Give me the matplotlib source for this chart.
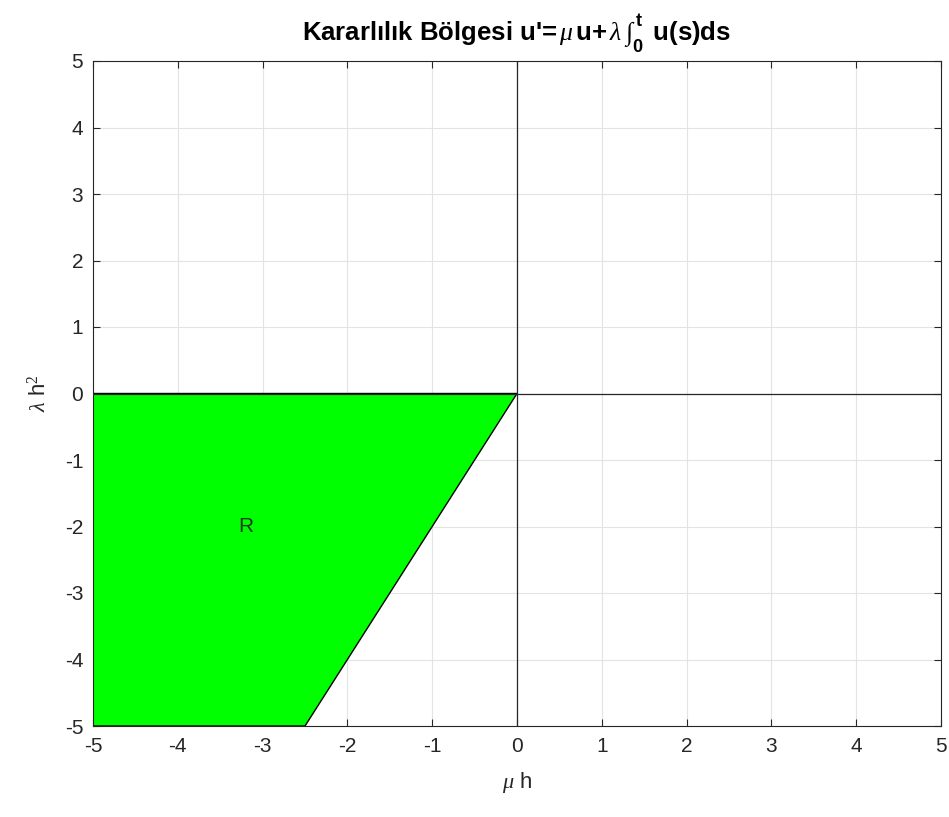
import numpy as np
import matplotlib
matplotlib.use('Agg')
from matplotlib import pyplot as plt

plt.rcParams['font.family'] = ['Liberation Sans', 'DejaVu Sans']
plt.rcParams['mathtext.fontset'] = 'custom'
plt.rcParams['mathtext.rm'] = 'Liberation Serif'
plt.rcParams['mathtext.it'] = 'Liberation Serif:italic'
plt.rcParams['mathtext.bf'] = 'Liberation Sans:bold'
plt.rcParams['axes.unicode_minus'] = False

# stability region vertices (mu*h, lambda*h^2)
region_x = [-5, 0, -2.5, -5]
region_y = [0, 0, -5, -5]
label_pos = (-3.2, -2)
ticks = [-5, -4, -3, -2, -1, 0, 1, 2, 3, 4, 5]

fig = plt.figure(figsize=(9.49, 8.17), dpi=100)
ax = fig.add_axes([93/949, 1-726/817, (941-93)/949, (726-61)/817])

ax.fill(region_x, region_y, facecolor='#00ff00', edgecolor='black', linewidth=1.0, zorder=2)
ax.axhline(0, color='#262626', linewidth=0.9, zorder=3)
ax.axvline(0, color='#262626', linewidth=0.9, zorder=3)
ax.text(label_pos[0], label_pos[1], 'R', fontsize=15, color='#1a3a1a', ha='center', va='center', zorder=4)

ax.set_xlim(-5, 5)
ax.set_ylim(-5, 5)
ax.set_xticks(ticks)
ax.set_yticks(ticks)
ax.grid(True, color='#e3e3e3', linewidth=0.8, zorder=0)
ax.set_axisbelow(True)
ax.tick_params(direction='in', labelsize=15, colors='#262626', length=5, top=True, right=True)
ax.tick_params(axis='x', pad=8)
ax.tick_params(axis='y', pad=7)
for s in ax.spines.values():
    s.set_color('#262626')
    s.set_linewidth(0.8)

ax.set_title(r"Kararlılık Bölgesi u'=$\,\mu\,$u+$\,\lambda\;\int_{\mathbf{0}}^{\mathbf{t}}\,$ u(s)ds",
             fontsize=18.5, fontweight='bold', pad=14)
ax.set_xlabel(r'$\mu$ h', fontsize=16, color='#262626', labelpad=10)
ax.set_ylabel(r'$\lambda$ h$^2$', fontsize=16, color='#262626', labelpad=10)

fig.savefig('out.png', dpi=100)
